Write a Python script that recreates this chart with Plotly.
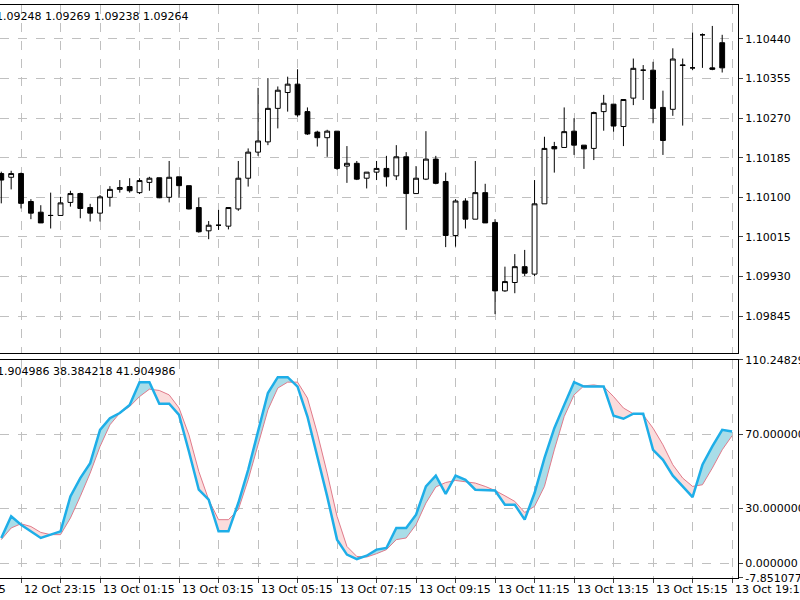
import plotly.graph_objects as go

# bar index 0 = 12 Oct 23:15, 15-minute bars
bars = list(range(-2, 73))

# OHLC (pixel y -> price converted below)
open_y = [520, 532, 520, 605, 637, 647, 647, 607, 580, 622, 640, 592, 568, 560, 578, 547, 533, 592, 530, 557, 623,
          693, 675, 678, 627, 535, 457, 425, 325, 277, 253, 335, 397, 413, 393, 498, 490, 535, 517, 505, 527, 470,
          580, 537, 478, 545, 707, 603, 658, 578, 667, 872, 848, 800, 822, 612, 440, 443, 393, 435, 445, 335, 312,
          380, 295, 210, 210, 323, 328, 197, 203, 105, 203, 128]
close_y = [540, 520, 610, 640, 668, 647, 608, 580, 625, 640, 590, 568, 562, 573, 542, 535, 593, 532, 557, 627, 695,
           675, 675, 623, 535, 457, 423, 325, 270, 253, 345, 402, 413, 393, 505, 490, 537, 517, 505, 530, 470, 580,
           535, 478, 550, 707, 603, 658, 578, 668, 872, 845, 800, 820, 612, 445, 447, 395, 435, 447, 338, 310, 378,
           298, 205, 210, 325, 422, 177, 195, 203, 105, 208, 203, 150]
high_y = [515, 512, 518, 598, 615, 578, 590, 572, 578, 612, 585, 558, 540, 535, 535, 530, 533, 483, 530, 557, 593,
          663, 630, 623, 483, 445, 263, 235, 260, 230, 208, 323, 392, 390, 393, 438, 483, 517, 483, 468, 435, 457,
          498, 393, 468, 518, 597, 595, 483, 552, 657, 800, 762, 750, 540, 410, 425, 322, 355, 435, 335, 285, 312,
          298, 175, 195, 185, 272, 145, 175, 97, 100, 78, 105, 108]
low_y = [610, 568, 625, 658, 668, 685, 647, 620, 655, 665, 665, 620, 578, 578, 582, 572, 595, 607, 593, 628, 698,
         718, 690, 688, 633, 560, 468, 435, 385, 335, 350, 405, 440, 470, 510, 548, 540, 565, 540, 560, 540, 690,
         580, 540, 553, 742, 740, 685, 658, 668, 942, 875, 880, 828, 828, 612, 518, 443, 465, 507, 480, 392, 395,
         438, 315, 300, 370, 465, 348, 377, 210, 203, 210, 218, 165]

def to_price(zy):
    return round(1.10440 - (zy / 3 - 39) / 46555, 5)

opens = [to_price(v) for v in open_y]
closes = [to_price(v) for v in close_y]
highs = [to_price(v) for v in high_y]
lows = [to_price(v) for v in low_y]

# stochastic main (%K) and signal (%D)
stoch_k = [13.8, 25.5, 21, 17.4, 13.8, 15.6, 17.4, 36.3, 46.2, 54.3, 72.3, 78.6, 81.4, 85.8, 98.1, 98.1, 86.4, 86.4,
           80.4, 60.6, 39.9, 34.5, 17.4, 17.4, 32.7, 50.7, 72.3, 92.2, 100.8, 100.8, 95.7, 79.5, 57.9, 36.3, 12.9,
           4.8, 2.4, 4.2, 7.5, 8.4, 19.2, 19.2, 26.4, 41.7, 47.5, 37.7, 47.5, 45.3, 39.9, 39.9, 39.5, 31.8, 31.8,
           23.7, 38.1, 57, 73.2, 85.8, 98.1, 95.7, 95.7, 95.7, 79.9, 78.3, 81, 81, 61.5, 56.1, 47.5, 41.7, 35.9,
           53.4, 63.3, 72.3, 71.4]
stoch_d = [12.9, 19.2, 21.5, 20, 16.8, 15.6, 15.6, 24.6, 36.3, 48.9, 63.3, 75, 81.4, 84.9, 90.3, 94.3, 93.6, 91.2,
           84.1, 69.6, 49.8, 34.5, 23.7, 23.7, 29.1, 45.3, 64.2, 83.1, 94.9, 98.1, 98.1, 89.5, 70.5, 48.9, 25.5,
           9.2, 3.8, 3.5, 5.3, 7.5, 12.9, 13.8, 21, 32.7, 41.4, 43.8, 44.9, 44.4, 43.5, 41.7, 39.5, 36.6, 33.6,
           27.6, 30.9, 41.7, 61.5, 79.5, 91.2, 96.1, 96.6, 95.7, 90.3, 84.1, 81, 80.4, 73.2, 64.2, 53.4, 46.2,
           41.7, 42.6, 51.6, 61.5, 69.1]

price_ticks = [1.10440, 1.10355, 1.10270, 1.10185, 1.10100, 1.10015, 1.09930, 1.09845]
stoch_ticks = [110.248292, 70.0, 30.0, 0.0, -7.851077]
stoch_tick_text = ["110.248292", "70.000000", "30.000000", "0.000000", "-7.851077"]
time_ticks = [0, 8, 16, 24, 32, 40, 48, 56, 64, 72]
time_text = ["12 Oct 23:15", "13 Oct 01:15", "13 Oct 03:15", "13 Oct 05:15", "13 Oct 07:15",
             "13 Oct 09:15", "13 Oct 11:15", "13 Oct 13:15", "13 Oct 15:15", "13 Oct 19:15"]

# fill polygons between %K and %D, split at crossings
up_x, up_y, dn_x, dn_y = [], [], [], []
for i in range(len(bars) - 1):
    x0, x1 = bars[i], bars[i + 1]
    k0, k1, d0, d1 = stoch_k[i], stoch_k[i + 1], stoch_d[i], stoch_d[i + 1]
    s0, s1 = k0 - d0, k1 - d1
    if s0 * s1 < 0:
        t = s0 / (s0 - s1)
        xc, yc = x0 + t, k0 + t * (k1 - k0)
        parts = [((x0, k0, d0), (xc, yc, yc), s0), ((xc, yc, yc), (x1, k1, d1), s1)]
    else:
        parts = [((x0, k0, d0), (x1, k1, d1), s0 + s1)]
    for a, b, s in parts:
        px = [a[0], b[0], b[0], a[0], a[0], None]
        py = [a[1], b[1], b[2], a[2], a[1], None]
        if s >= 0:
            up_x += px; up_y += py
        else:
            dn_x += px; dn_y += py

fig = go.Figure()
fig.add_trace(go.Candlestick(
    x=bars, open=opens, high=highs, low=lows, close=closes,
    increasing=dict(line=dict(color="black", width=1), fillcolor="white"),
    decreasing=dict(line=dict(color="black", width=1), fillcolor="black"),
    whiskerwidth=0, xaxis="x", yaxis="y", showlegend=False, hoverinfo="skip"))

fig.add_trace(go.Scatter(x=up_x, y=up_y, fill="toself", fillcolor="#a9dde8", mode="lines",
                         line=dict(width=0), xaxis="x2", yaxis="y2", showlegend=False, hoverinfo="skip"))
fig.add_trace(go.Scatter(x=dn_x, y=dn_y, fill="toself", fillcolor="#fbdcdc", mode="lines",
                         line=dict(width=0), xaxis="x2", yaxis="y2", showlegend=False, hoverinfo="skip"))
fig.add_trace(go.Scatter(x=bars, y=stoch_d, mode="lines", line=dict(color="#e07a8a", width=1),
                         xaxis="x2", yaxis="y2", showlegend=False))
fig.add_trace(go.Scatter(x=bars, y=stoch_k, mode="lines", line=dict(color="#1eaee8", width=2.5),
                         xaxis="x2", yaxis="y2", showlegend=False))

xr = [-2.13, 72.6]
grid = dict(showgrid=True, gridcolor="#c0c0c0", griddash="dash", gridwidth=1)
fig.update_layout(
    width=800, height=600, paper_bgcolor="white", plot_bgcolor="white",
    margin=dict(l=0, r=62, t=5, b=22, autoexpand=False),
    font=dict(family="DejaVu Sans", size=11, color="black"),
    xaxis=dict(domain=[0, 1], range=xr, anchor="y", tick0=0, dtick=4, showticklabels=False,
               rangeslider=dict(visible=False),
               showline=True, linecolor="black", mirror=True, zeroline=False, **grid),
    yaxis=dict(domain=[0.393, 1], range=[1.09766, 1.10513], side="right", tickvals=price_ticks,
               tickformat=".5f", ticks="outside", ticklen=4, showline=True, linecolor="black",
               mirror=True, zeroline=False, **grid),
    xaxis2=dict(domain=[0, 1], range=xr, anchor="y2", tick0=0, dtick=4, showticklabels=False,
                ticks="outside", ticklen=4, showline=True, linecolor="black", mirror=True,
                zeroline=False, **grid),
    yaxis2=dict(domain=[0, 0.381], range=[-7.851077, 110.248292], side="right", tickvals=stoch_ticks,
                ticktext=stoch_tick_text, ticks="outside", ticklen=4, showline=True, linecolor="black",
                mirror=True, zeroline=False, **grid),
)

for tv, tt in zip(time_ticks, time_text):
    fig.add_annotation(x=tv, y=0, xref="x2", yref="paper", text=tt, showarrow=False,
                       xanchor="left", yanchor="top", yshift=-3, xshift=1, font=dict(size=11))
# partly hidden label at the left edge
fig.add_annotation(x=0, y=0, xref="paper", yref="paper", text="12 Oct 22:15", showarrow=False,
                   xanchor="right", yanchor="top", yshift=-3, xshift=8, font=dict(size=11))

fig.add_annotation(x=0, y=1, xref="paper", yref="paper", text="1.09248 1.09269 1.09238 1.09264",
                   showarrow=False, xanchor="left", yanchor="top", xshift=-6, yshift=-3, font=dict(size=11))
fig.add_annotation(x=0, y=0.381, xref="paper", yref="paper", text="41.904986 38.384218 41.904986",
                   showarrow=False, xanchor="left", yanchor="top", xshift=-12, yshift=-3, font=dict(size=11))

fig.write_html("out.html", post_script="document.body.style.margin='0';",
               config={"displayModeBar": False})
